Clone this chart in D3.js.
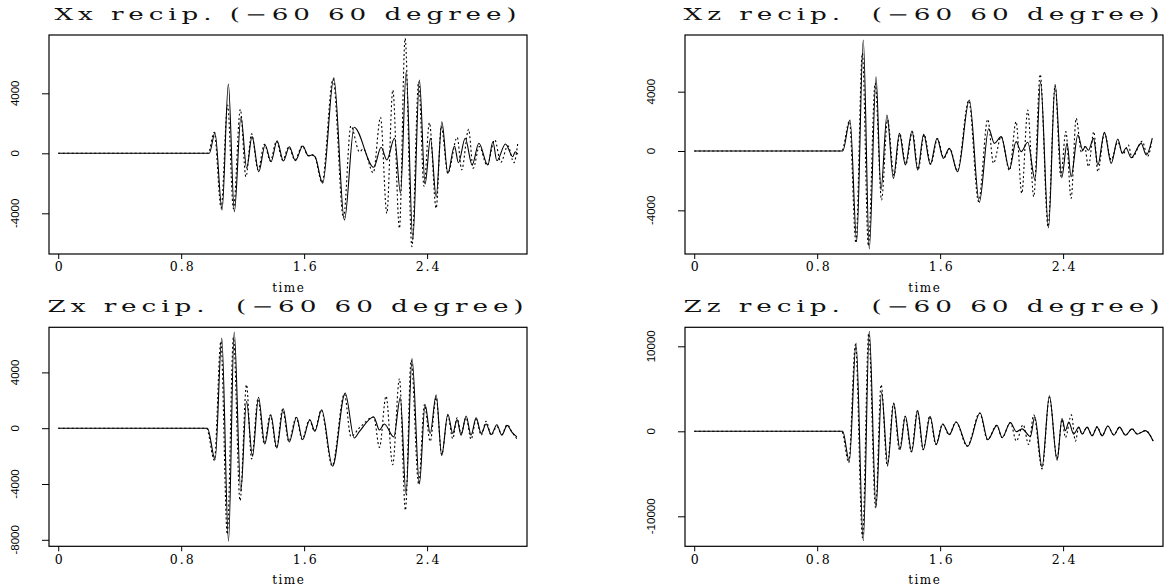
<!DOCTYPE html>
<html lang="en">
<head>
<meta charset="UTF-8">
<title>recip. traces (-60 60 degree)</title>
<script src="https://d3js.org/d3.v7.min.js"></script>
<style>
  body { margin: 0; background: #fff; }
  svg { display: block; }
  .title { font-family: "DejaVu Serif", serif; font-size: 16px; white-space: pre; fill: #111; }
  .xaxis text { font-family: "DejaVu Serif", serif; font-size: 12.5px; }
  .xname { font-family: "DejaVu Serif", serif; font-size: 12px; }
  .ylab { font-family: "Liberation Sans", Arial, sans-serif; font-size: 11.5px; }
</style>
</head>
<body>
<svg id="chart" width="1172" height="587"></svg>
<script>
// panel titles, in drawing order (top-left, top-right, bottom-left, bottom-right)
const titles = [
  "Xx recip. (\u221260 60 degree)",
  "Xz recip.  (\u221260 60 degree)",
  "Zx recip.  (\u221260 60 degree)",
  "Zz recip.  (\u221260 60 degree)"
];

const xTicks = [0, 0.8, 1.6, 2.4];
const xTickLabels = ["0", "0.8", "1.6", "2.4"];
const yTicks = [
  [-4000, 0, 4000],
  [-4000, 0, 4000],
  [-8000, -4000, 0, 4000],
  [-10000, 0, 10000]
];
// y limits of each panel [low, high]
const yLimits = [
  [-6713, 7887],
  [-6944, 7820],
  [-8466, 7233],
  [-13529, 12235]
];

// traces as [time, amplitude] at their turning points
const xxSolid = [[0,0],[0.983,0],[1.020,1373],[1.066,-3780],[1.107,4620],[1.146,-3890],[1.189,2440],[1.226,-1000],[1.261,1110],[1.305,-1230],[1.346,553],[1.385,-560],[1.424,840],[1.465,-513],[1.504,440],[1.543,-493],[1.591,487],[1.628,-180],[1.650,-113],[1.671,-227],[1.721,-2000],[1.793,5040],[1.862,-4447],[1.925,1733],[2.053,-933],[2.101,400],[2.138,-447],[2.188,1000],[2.227,-2667],[2.264,5440],[2.307,-5780],[2.350,4887],[2.387,-2047],[2.422,1000],[2.459,-2893],[2.496,2107],[2.535,-1333],[2.578,487],[2.604,-627],[2.648,1000],[2.693,-780],[2.737,667],[2.795,-780],[2.828,773],[2.854,-493],[2.910,620],[2.958,-227],[2.973,107],[2.991,-60]];
const xxDotted = [[0,0],[0.975,0],[1.015,1400],[1.060,-3650],[1.102,3220],[1.140,-3700],[1.185,2933],[1.221,-1560],[1.258,1300],[1.300,-1100],[1.342,600],[1.380,-520],[1.420,800],[1.460,-450],[1.500,420],[1.540,-450],[1.588,500],[1.625,-150],[1.648,-90],[1.668,-200],[1.716,-1950],[1.788,4950],[1.856,-4300],[1.904,1820],[1.960,100],[1.985,300],[2.050,-1290],[2.097,2400],[2.138,-4000],[2.177,4220],[2.220,-5000],[2.257,7667],[2.301,-6227],[2.345,4773],[2.380,-2200],[2.415,2040],[2.459,-3667],[2.492,1800],[2.535,-1333],[2.596,1067],[2.625,-1100],[2.670,1600],[2.700,-1000],[2.740,450],[2.790,-800],[2.840,900],[2.880,-600],[2.925,500],[2.965,-627],[2.991,773]];

const xzSolid = [[0,0],[0.966,0],[1.014,2090],[1.057,-6067],[1.100,7483],[1.139,-6607],[1.183,5010],[1.215,-2630],[1.254,2427],[1.296,-1843],[1.335,1190],[1.374,-944],[1.417,1348],[1.454,-1281],[1.493,1124],[1.536,-899],[1.580,854],[1.621,-494],[1.660,180],[1.714,-1394],[1.790,3438],[1.855,-3461],[1.916,1500],[1.953,517],[1.997,966],[2.051,-1214],[2.094,629],[2.127,-45],[2.170,585],[2.218,-1955],[2.253,4674],[2.305,-5169],[2.348,4495],[2.391,-1798],[2.426,517],[2.452,-1730],[2.496,1079],[2.528,67],[2.545,300],[2.565,50],[2.598,854],[2.626,-944],[2.669,1258],[2.713,-832],[2.756,809],[2.785,-157],[2.810,200],[2.843,-450],[2.908,517],[2.941,-270],[2.980,854]];
const xzDotted = [[0,0],[0.960,0],[1.010,2000],[1.052,-6200],[1.094,6590],[1.133,-6400],[1.177,4570],[1.219,-3300],[1.258,2100],[1.300,-1650],[1.338,1150],[1.377,-900],[1.420,1300],[1.457,-1250],[1.496,1100],[1.539,-880],[1.583,830],[1.624,-480],[1.663,170],[1.712,-1350],[1.786,3400],[1.850,-3400],[1.910,2135],[1.947,-830],[1.997,966],[2.051,-1300],[2.094,1978],[2.131,-2854],[2.170,2764],[2.209,-3079],[2.251,5168],[2.302,-5100],[2.348,4400],[2.385,-1700],[2.418,1303],[2.452,-3191],[2.485,2202],[2.520,-100],[2.540,300],[2.565,-1056],[2.600,1300],[2.626,-1400],[2.669,1200],[2.713,-600],[2.756,600],[2.790,-200],[2.825,400],[2.848,-450],[2.915,650],[2.950,-350],[2.980,854]];

const zxSolid = [[0,0],[0.971,0],[1.021,-2258],[1.064,6466],[1.108,-8108],[1.145,6896],[1.188,-4523],[1.225,1928],[1.264,-2014],[1.303,2215],[1.344,-1133],[1.383,968],[1.422,-1419],[1.464,1398],[1.503,-989],[1.551,781],[1.590,-824],[1.637,609],[1.670,-222],[1.714,1326],[1.785,-2731],[1.867,2523],[1.926,-700],[1.959,-250],[2.053,800],[2.090,-125],[2.122,300],[2.183,-625],[2.226,2200],[2.263,-4750],[2.302,5000],[2.350,-4000],[2.387,1700],[2.420,-375],[2.459,2375],[2.495,-1950],[2.535,1000],[2.567,-375],[2.595,625],[2.621,-500],[2.654,875],[2.686,-500],[2.719,750],[2.752,-375],[2.784,300],[2.817,-450],[2.854,250],[2.886,-500],[2.921,200],[2.953,-300],[2.984,-625]];
const zxDotted = [[0,0],[0.965,0],[1.016,-2300],[1.058,6228],[1.100,-7600],[1.140,6500],[1.183,-5197],[1.225,3118],[1.258,-2200],[1.300,2100],[1.340,-1100],[1.380,950],[1.420,-1400],[1.460,1350],[1.500,-950],[1.548,760],[1.587,-800],[1.634,600],[1.667,-210],[1.711,1300],[1.782,-2700],[1.862,2450],[1.904,-600],[1.958,0],[2.053,800],[2.090,-1375],[2.133,2300],[2.176,-2625],[2.220,3550],[2.259,-5875],[2.296,4875],[2.345,-4000],[2.383,1700],[2.420,-950],[2.459,2200],[2.495,-1900],[2.535,900],[2.567,-750],[2.595,750],[2.621,-375],[2.654,750],[2.686,-800],[2.719,625],[2.752,-500],[2.784,500],[2.817,-500],[2.854,125],[2.886,-450],[2.921,250],[2.953,-300],[2.984,-750]];

const zzSolid = [[0,0],[0.966,0],[1.009,-3528],[1.053,10388],[1.100,-12858],[1.139,11760],[1.183,-8938],[1.219,4626],[1.259,-3920],[1.298,3332],[1.339,-2156],[1.374,1764],[1.415,-2430],[1.454,2430],[1.491,-2156],[1.535,1764],[1.574,-1568],[1.617,862],[1.660,-392],[1.704,1098],[1.779,-1764],[1.860,2156],[1.910,-980],[1.970,700],[2.003,-740],[2.057,1025],[2.096,-40],[2.133,290],[2.187,-615],[2.216,1720],[2.263,-4220],[2.311,4180],[2.361,-3400],[2.393,1510],[2.415,80],[2.437,1100],[2.469,-330],[2.502,490],[2.524,-330],[2.556,490],[2.589,-530],[2.621,490],[2.654,-530],[2.691,615],[2.730,-450],[2.767,490],[2.806,-450],[2.849,290],[2.882,-330],[2.936,80],[2.986,-1150]];
const zzDotted = [[0,0],[0.960,0],[1.005,-3700],[1.049,10200],[1.095,-12500],[1.135,11500],[1.180,-9000],[1.216,5488],[1.256,-4100],[1.296,3300],[1.336,-2200],[1.372,1750],[1.412,-2400],[1.452,2400],[1.489,-2150],[1.532,1750],[1.572,-1550],[1.615,850],[1.658,-400],[1.702,1100],[1.776,-1750],[1.857,2150],[1.908,-1000],[1.968,700],[2.003,-740],[2.057,1025],[2.096,-1150],[2.140,780],[2.176,-1560],[2.209,1930],[2.263,-4430],[2.311,3980],[2.361,-3200],[2.393,1400],[2.415,-740],[2.454,1930],[2.480,-1150],[2.502,450],[2.524,-330],[2.556,490],[2.589,-500],[2.621,550],[2.654,-500],[2.691,600],[2.730,-400],[2.767,450],[2.806,-450],[2.849,300],[2.882,-300],[2.936,100],[2.986,-1150]];

const solids = [xxSolid, xzSolid, zxSolid, zzSolid];
const dotteds = [xxDotted, xzDotted, zxDotted, zzDotted];

const svg = d3.select("#chart");
const colLeft = [49, 685];          // frame left edge of each column
const rowTop = [35, 327.3];         // frame top edge of each row
const frameW = 478, frameH = 219;

titles.forEach((title, i) => {
  const col = i % 2, row = Math.floor(i / 2);
  const left = colLeft[col], top = rowTop[row];

  const x = d3.scaleLinear().domain([-0.06, 3.05]).range([0, frameW]);
  const y = d3.scaleLinear().domain(yLimits[i]).range([frameH, 0]);

  const g = svg.append("g").attr("transform", `translate(${left},${top})`);

  const line = d3.line()
    .x(d => x(d[0]))
    .y(d => y(d[1]))
    .curve(d3.curveMonotoneX);

  g.append("path")
    .attr("d", line(solids[i]))
    .attr("fill", "none")
    .attr("stroke", "#000")
    .attr("stroke-width", 1.1);

  g.append("path")
    .attr("d", line(dotteds[i]))
    .attr("fill", "none")
    .attr("stroke", "#000")
    .attr("stroke-width", 1.1)
    .attr("stroke-dasharray", "2,2.5");

  // box
  g.append("rect")
    .attr("width", frameW)
    .attr("height", frameH)
    .attr("fill", "none")
    .attr("stroke", "#000")
    .attr("stroke-width", 1.2);

  // x axis
  const xa = g.append("g")
    .attr("class", "xaxis")
    .attr("transform", `translate(0,${frameH})`)
    .call(d3.axisBottom(x).tickValues(xTicks)
      .tickFormat((d, k) => xTickLabels[k]).tickSize(5).tickSizeOuter(0));
  xa.select(".domain").remove();
  xa.selectAll("line").attr("stroke-width", 1);
  xa.selectAll("text")
    .attr("y", 8.5)
    .attr("dx", 1)
    .attr("fill", "#000")
    .attr("letter-spacing", 2);

  g.append("text")
    .attr("class", "xname")
    .attr("x", frameW / 2 + 0.75)
    .attr("y", frameH + 37.5)
    .attr("text-anchor", "middle")
    .attr("letter-spacing", 1.5)
    .text("time");

  // y axis: ticks from d3, labels placed rotated like the reference
  const ya = g.append("g")
    .call(d3.axisLeft(y).tickValues(yTicks[i])
      .tickFormat("").tickSize(7).tickSizeOuter(0));
  ya.select(".domain").remove();
  ya.selectAll("line").attr("stroke-width", 1);

  g.append("g")
    .selectAll("text")
    .data(yTicks[i])
    .join("text")
    .attr("class", "ylab")
    .attr("text-anchor", "middle")
    .attr("transform", d => `translate(-30,${y(d)}) rotate(-90)`)
    .text(d => String(d));

  // title
  svg.append("text")
    .attr("class", "title")
    .attr("xml:space", "preserve")
    .attr("x", left + frameW / 2)
    .attr("y", top - 15)
    .attr("text-anchor", "middle")
    .attr("letter-spacing", 3)
    .attr("textLength", i === 0 ? 467 : 481)
    .attr("lengthAdjust", "spacingAndGlyphs")
    .text(title);
});
</script>
</body>
</html>
